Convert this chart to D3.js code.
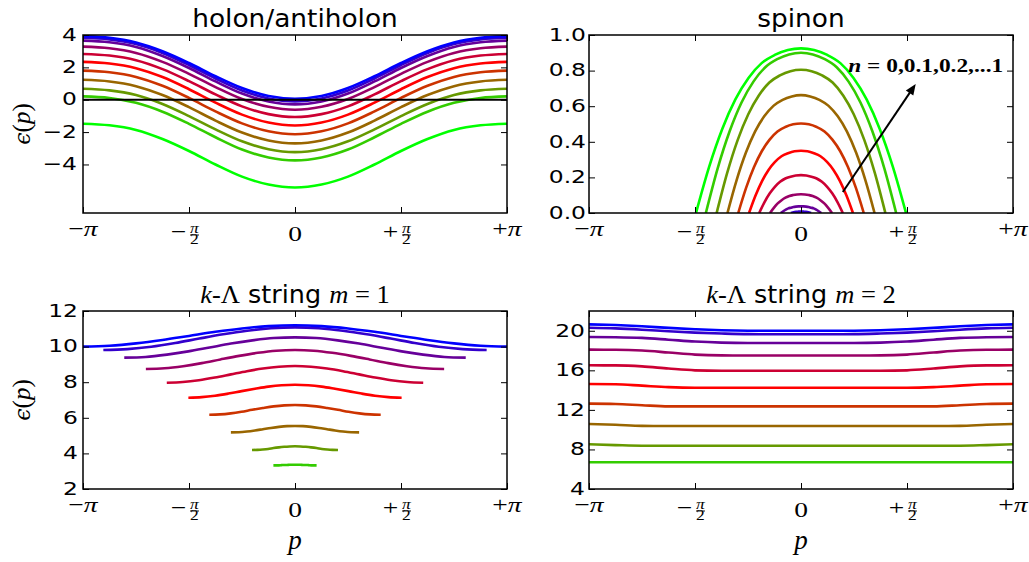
<!DOCTYPE html>
<html><head><meta charset="utf-8">
<script src="https://cdn.jsdelivr.net/npm/d3@7"></script>
<style>body{margin:0;background:#fff}svg{display:block}</style>
</head><body><svg id="c" width="1029" height="562"></svg>
<script>
const PI = Math.PI;
// ---------- data ----------
const seriesColors = ["#00ff00","#33cc00","#669900","#996600","#cc3300","#ff0000","#cc0033","#990066","#660099","#3300cc","#0000ff"];
const xTickValues = [-PI, -PI/2, 0, PI/2, PI];
const xTickLabels = ["−π", "−π/2", "0", "+π/2", "+π"];
// sample positions as fraction of each curve's half-width
const gridU = [-1,-0.875,-0.75,-0.625,-0.5,-0.375,-0.25,-0.125,0,0.125,0.25,0.375,0.5,0.625,0.75,0.875,1];

// holon/antiholon, full range [-pi, pi]
const holonEps = [
 [-1.48,-1.58,-1.87,-2.43,-3.17,-4.00,-4.75,-5.24,-5.42,-5.24,-4.75,-4.00,-3.17,-2.43,-1.87,-1.58,-1.48],
 [0.21,0.11,-0.19,-0.74,-1.49,-2.32,-3.08,-3.57,-3.75,-3.57,-3.08,-2.32,-1.49,-0.74,-0.19,0.11,0.21],
 [0.68,0.58,0.29,-0.26,-1.01,-1.83,-2.57,-3.06,-3.24,-3.06,-2.57,-1.83,-1.01,-0.26,0.29,0.58,0.68],
 [1.23,1.13,0.84,0.29,-0.46,-1.29,-2.03,-2.52,-2.70,-2.52,-2.03,-1.29,-0.46,0.29,0.84,1.13,1.23],
 [1.80,1.70,1.41,0.86,0.11,-0.72,-1.46,-1.95,-2.13,-1.95,-1.46,-0.72,0.11,0.86,1.41,1.70,1.80],
 [2.34,2.24,1.95,1.40,0.65,-0.18,-0.92,-1.41,-1.59,-1.41,-0.92,-0.18,0.65,1.40,1.95,2.24,2.34],
 [2.83,2.73,2.44,1.89,1.15,0.33,-0.41,-0.89,-1.07,-0.89,-0.41,0.33,1.15,1.89,2.44,2.73,2.83],
 [3.28,3.18,2.89,2.34,1.60,0.78,0.04,-0.44,-0.62,-0.44,0.04,0.78,1.60,2.34,2.89,3.18,3.28],
 [3.65,3.55,3.26,2.70,1.96,1.13,0.38,-0.11,-0.29,-0.11,0.38,1.13,1.96,2.70,3.26,3.55,3.65],
 [3.83,3.73,3.44,2.89,2.14,1.31,0.57,0.08,-0.10,0.08,0.57,1.31,2.14,2.89,3.44,3.73,3.83],
 [3.93,3.83,3.54,3.00,2.27,1.45,0.72,0.23,0.06,0.23,0.72,1.45,2.27,3.00,3.54,3.83,3.93]
];

// spinon: half-widths of each arch and its values
const spinonHalfWidth = [1.556,1.41,1.25,1.09,0.93,0.77,0.62,0.46,0.30,0.15,0.0];
const spinonEps = [
 [0,0.259,0.472,0.638,0.759,0.842,0.888,0.916,0.925,0.916,0.888,0.842,0.759,0.638,0.472,0.259,0],
 [0,0.252,0.459,0.621,0.738,0.819,0.864,0.891,0.900,0.891,0.864,0.819,0.738,0.621,0.459,0.252,0],
 [0,0.225,0.411,0.555,0.660,0.733,0.773,0.797,0.805,0.797,0.773,0.733,0.660,0.555,0.411,0.225,0],
 [0,0.185,0.338,0.457,0.543,0.602,0.636,0.655,0.662,0.655,0.636,0.602,0.543,0.457,0.338,0.185,0],
 [0,0.141,0.257,0.347,0.412,0.458,0.483,0.498,0.503,0.498,0.483,0.458,0.412,0.347,0.257,0.141,0],
 [0,0.098,0.179,0.242,0.287,0.319,0.336,0.347,0.350,0.347,0.336,0.319,0.287,0.242,0.179,0.098,0],
 [0,0.060,0.109,0.147,0.175,0.194,0.204,0.211,0.213,0.211,0.204,0.194,0.175,0.147,0.109,0.060,0],
 [0,0.029,0.054,0.072,0.086,0.096,0.101,0.104,0.105,0.104,0.101,0.096,0.086,0.072,0.054,0.029,0],
 [0,0.010,0.019,0.026,0.030,0.034,0.036,0.037,0.037,0.037,0.036,0.034,0.030,0.026,0.019,0.010,0],
 [0,0.002,0.004,0.006,0.007,0.007,0.008,0.008,0.008,0.008,0.008,0.007,0.007,0.006,0.004,0.002,0],
 [0,0,0,0,0,0,0,0,0,0,0,0,0,0,0,0,0]
];

// k-Lambda string m=1 (colour index 1..10), half-widths and values
const m1HalfWidth = [0.32,0.637,0.95,1.27,1.58,1.90,2.21,2.53,2.84,PI];
const m1Eps = [
 [3.33,3.33,3.33,3.34,3.35,3.35,3.36,3.36,3.36,3.36,3.36,3.35,3.35,3.34,3.33,3.33,3.33],
 [4.19,4.20,4.22,4.25,4.30,4.34,4.37,4.39,4.40,4.39,4.37,4.34,4.30,4.25,4.22,4.20,4.19],
 [5.18,5.19,5.23,5.29,5.36,5.43,5.49,5.53,5.54,5.53,5.49,5.43,5.36,5.29,5.23,5.19,5.18],
 [6.17,6.19,6.25,6.34,6.45,6.55,6.64,6.70,6.72,6.70,6.64,6.55,6.45,6.34,6.25,6.19,6.17],
 [7.13,7.16,7.24,7.36,7.50,7.63,7.75,7.83,7.86,7.83,7.75,7.63,7.50,7.36,7.24,7.16,7.13],
 [7.97,8.01,8.11,8.26,8.44,8.62,8.77,8.87,8.91,8.87,8.77,8.62,8.44,8.26,8.11,8.01,7.97],
 [8.74,8.78,8.90,9.07,9.28,9.48,9.65,9.77,9.81,9.77,9.65,9.48,9.28,9.07,8.90,8.78,8.74],
 [9.38,9.42,9.55,9.73,9.95,10.17,10.35,10.48,10.52,10.48,10.35,10.17,9.95,9.73,9.55,9.42,9.38],
 [9.81,9.86,9.99,10.20,10.45,10.69,10.89,11.03,11.08,11.03,10.89,10.69,10.45,10.20,9.99,9.86,9.81],
 [10.00,10.05,10.18,10.37,10.60,10.83,11.02,11.15,11.20,11.15,11.02,10.83,10.60,10.37,10.18,10.05,10.00]
];

// k-Lambda string m=2 (colour index 1..10), full range
const m2Eps = [
 [6.70,6.70,6.70,6.70,6.70,6.70,6.70,6.70,6.70,6.70,6.70,6.70,6.70,6.70,6.70,6.70,6.70],
 [8.52,8.44,8.38,8.38,8.38,8.38,8.38,8.38,8.38,8.38,8.38,8.38,8.38,8.38,8.38,8.44,8.52],
 [10.57,10.49,10.38,10.37,10.37,10.37,10.37,10.37,10.37,10.37,10.37,10.37,10.37,10.37,10.38,10.49,10.57],
 [12.63,12.60,12.47,12.36,12.36,12.36,12.36,12.36,12.36,12.36,12.36,12.36,12.36,12.36,12.47,12.60,12.63],
 [14.62,14.60,14.45,14.30,14.24,14.24,14.24,14.24,14.24,14.24,14.24,14.24,14.24,14.30,14.45,14.60,14.62],
 [16.51,16.50,16.40,16.18,16.00,15.96,15.96,15.96,15.96,15.96,15.96,15.96,16.00,16.18,16.40,16.50,16.51],
 [18.09,18.08,18.00,17.80,17.59,17.51,17.50,17.50,17.50,17.50,17.50,17.51,17.59,17.80,18.00,18.08,18.09],
 [19.37,19.35,19.28,19.10,18.91,18.80,18.76,18.76,18.76,18.76,18.76,18.80,18.91,19.10,19.28,19.35,19.37],
 [20.31,20.24,20.11,19.95,19.81,19.72,19.66,19.65,19.65,19.65,19.66,19.72,19.81,19.95,20.11,20.24,20.31],
 [20.65,20.58,20.46,20.29,20.16,20.06,20.01,20.00,20.00,20.00,20.01,20.06,20.16,20.29,20.46,20.58,20.65]
];

const holonYTicks = [4,2,0,-2,-4];
const spinonYTicks = [0,0.2,0.4,0.6,0.8,1.0];
const m1YTicks = [2,4,6,8,10,12];
const m2YTicks = [4,8,12,16,20];
// annotation (data coords of spinon panel)
const arrowFrom = [0.62, 0.118], arrowTo = [1.70, 0.725], annotAt = [0.70, 0.79];
const annotText = "0,0.1,0.2,...1";

// ---------- drawing ----------
const SANS = "DejaVu Sans, sans-serif";
const SERIF = "Liberation Serif, DejaVu Serif, serif";
const svg = d3.select("#c");
svg.append("rect").attr("width",1029).attr("height",562).attr("fill","#fff");
const defs = svg.append("defs");

function stext(parent, x, y, sx, anchor){
  return parent.append("g").attr("transform",`translate(${x},${y}) scale(${sx},1)`)
    .append("text").attr("text-anchor",anchor||"start");
}

function xLabel(g, cx, top, lab){
  const sx = 1.25;
  const grp = g.append("g").attr("transform",`translate(${cx},${top}) scale(${sx},1)`)
    .attr("font-family",SERIF).attr("fill","#000");
  if (lab === "0") {
    grp.append("text").attr("text-anchor","middle").attr("y",15).attr("font-size",22).text("0");
  } else if (lab.indexOf("/") < 0) {
    const t = grp.append("text").attr("text-anchor","middle").attr("y",9.5).attr("font-size",22);
    t.append("tspan").text(lab[0]);
    t.append("tspan").attr("font-style","italic").text("π");
  } else {
    const fx = 5.5/sx;
    const t = grp.append("text").attr("text-anchor","middle");
    t.append("tspan").attr("x",-8.4).attr("y",12.5).attr("font-size",22).text(lab[0]);
    t.append("tspan").attr("x",fx).attr("y",6.5).attr("font-size",14).attr("font-style","italic").text("π");
    t.append("tspan").attr("x",fx).attr("y",18).attr("font-size",14).text("2");
    grp.append("line").attr("x1",fx-3.6).attr("x2",fx+3.6).attr("y1",9).attr("y2",9).attr("stroke","#000").attr("stroke-width",0.9);
  }
}

function panel(cfg){
  const {x0,x1,y0,y1} = cfg.box;
  const x = d3.scaleLinear().domain([-PI,PI]).range([x0,x1]);
  const y = d3.scaleLinear().domain(cfg.yDomain).range([y1,y0]);
  const g = svg.append("g");
  defs.append("clipPath").attr("id","clip"+cfg.id).append("rect")
    .attr("x",x0).attr("y",y0).attr("width",x1-x0).attr("height",y1-y0);
  const plot = g.append("g").attr("clip-path",`url(#clip${cfg.id})`);
  const line = d3.line().x(d=>x(d[0])).y(d=>y(d[1])).curve(d3.curveMonotoneX);
  cfg.curves.forEach(c=>{
    plot.append("path").attr("d",line(c.pts)).attr("fill","none")
      .attr("stroke",c.color).attr("stroke-width",2.6).attr("stroke-linejoin","round");
  });
  if (cfg.zeroLine) {
    plot.append("line").attr("x1",x(-PI)).attr("x2",x(PI)).attr("y1",y(0)).attr("y2",y(0))
      .attr("stroke","#000").attr("stroke-width",2);
  }
  // ticks (inside, all four sides)
  const axes = [
    [d3.axisBottom(x).tickValues(xTickValues), `translate(0,${y1})`],
    [d3.axisTop(x).tickValues(xTickValues), `translate(0,${y0})`],
    [d3.axisLeft(y).tickValues(cfg.yTicks), `translate(${x0},0)`],
    [d3.axisRight(y).tickValues(cfg.yTicks), `translate(${x1},0)`]
  ];
  axes.forEach(([ax,tr])=>{
    const a = g.append("g").attr("transform",tr).call(ax.tickSize(-6).tickFormat(()=>""));
    a.select(".domain").remove();
    a.selectAll("text").remove();
    a.selectAll("line").attr("stroke","#000").attr("stroke-width",1);
  });
  g.append("rect").attr("x",x0).attr("y",y0).attr("width",x1-x0).attr("height",y1-y0)
    .attr("fill","none").attr("stroke","#000").attr("stroke-width",1.5);
  // y tick labels
  cfg.yTicks.forEach(v=>{
    stext(g, x0-cfg.yLabPad, y(v), 1.3, "end")
      .attr("font-family",SANS).attr("font-size",18).attr("dy","0.32em").text(cfg.yFmt(v));
  });
  // x tick labels
  xTickValues.forEach((v,i)=> xLabel(g, x(v), y1+13, xTickLabels[i]));
  // title
  const t = stext(g, (x0+x1)/2, y0-8, cfg.titleSx, "middle").attr("font-size",24);
  cfg.title.forEach(p=>{
    const s = t.append("tspan").text(p.t).attr("font-family",p.serif?SERIF:SANS);
    if (p.it) s.attr("font-style","italic");
    if (p.serif) s.attr("font-size",25);
  });
  if (cfg.ylabel) {
    const lt = g.append("text").attr("transform",`translate(${x0-53},${(y0+y1)/2}) rotate(-90)`)
      .attr("text-anchor","middle").attr("font-family",SERIF).attr("font-size",25);
    lt.append("tspan").attr("font-family","DejaVu Serif").attr("font-style","italic").attr("font-size",22).text("ϵ");
    lt.append("tspan").text("(");
    lt.append("tspan").attr("font-style","italic").text("p");
    lt.append("tspan").text(")");
  }
  if (cfg.xlabel) {
    g.append("text").attr("x",(x0+x1)/2).attr("y",y1+60).attr("text-anchor","middle")
      .attr("font-family",SERIF).attr("font-style","italic").attr("font-size",27).text("p");
  }
  return {g,x,y};
}

const fmtInt = v => (v<0?"−":"") + Math.abs(v);
const fmt1 = v => d3.format(".1f")(v);

// holon
panel({id:0, box:{x0:83,x1:507,y0:35,y1:213}, yDomain:[-7,4], yTicks:holonYTicks, yFmt:fmtInt, yLabPad:6,
  zeroLine:true, ylabel:true, title:[{t:"holon/antiholon"}], titleSx:1.1,
  curves: holonEps.map((e,i)=>({color:seriesColors[i], pts: gridU.map((u,k)=>[u*PI, e[k]])}))});

// spinon
const sp = panel({id:1, box:{x0:589,x1:1013,y0:35,y1:213}, yDomain:[0,1], yTicks:spinonYTicks, yFmt:fmt1, yLabPad:3,
  title:[{t:"spinon"}], titleSx:1.1,
  curves: spinonEps.map((e,i)=>({color:seriesColors[i], pts: gridU.map((u,k)=>[u*spinonHalfWidth[i], e[k]])})).filter((c,i)=>spinonHalfWidth[i]>0)});
{
  const x1p = sp.x(arrowFrom[0]), y1p = sp.y(arrowFrom[1]);
  const x2p = sp.x(arrowTo[0]), y2p = sp.y(arrowTo[1]);
  const ang = Math.atan2(y2p-y1p, x2p-x1p);
  const hl = 11, hw = 4.5;
  const bx = x2p - hl*Math.cos(ang), by = y2p - hl*Math.sin(ang);
  sp.g.append("line").attr("x1",x1p).attr("y1",y1p).attr("x2",bx+2*Math.cos(ang)).attr("y2",by+2*Math.sin(ang))
    .attr("stroke","#000").attr("stroke-width",2);
  sp.g.append("path").attr("d",`M${x2p},${y2p}L${bx - hw*Math.sin(ang)},${by + hw*Math.cos(ang)}L${bx + hw*Math.sin(ang)},${by - hw*Math.cos(ang)}Z`)
    .attr("fill","#000");
  const at = stext(sp.g, sp.x(annotAt[0]), sp.y(annotAt[1]), 1.3, "start")
    .attr("font-family",SERIF).attr("font-size",18).attr("font-weight","bold");
  at.append("tspan").attr("font-style","italic").text("n");
  at.append("tspan").text(" = " + annotText);
}

// m=1
panel({id:2, box:{x0:83,x1:507,y0:311,y1:489}, yDomain:[2,12], yTicks:m1YTicks, yFmt:fmtInt, yLabPad:5,
  ylabel:true, xlabel:true, titleSx:1.06,
  title:[{t:"k",serif:true,it:true},{t:"-Λ",serif:true},{t:" string "},{t:"m",serif:true,it:true},{t:" = 1",serif:true}],
  curves: m1Eps.map((e,j)=>({color:seriesColors[j+1], pts: gridU.map((u,k)=>[u*m1HalfWidth[j], e[k]])}))});

// m=2
panel({id:3, box:{x0:589,x1:1013,y0:311,y1:489}, yDomain:[4,22], yTicks:m2YTicks, yFmt:fmtInt, yLabPad:4,
  xlabel:true, titleSx:1.06,
  title:[{t:"k",serif:true,it:true},{t:"-Λ",serif:true},{t:" string "},{t:"m",serif:true,it:true},{t:" = 2",serif:true}],
  curves: m2Eps.map((e,j)=>({color:seriesColors[j+1], pts: gridU.map((u,k)=>[u*PI, e[k]])}))});
</script></body></html>
